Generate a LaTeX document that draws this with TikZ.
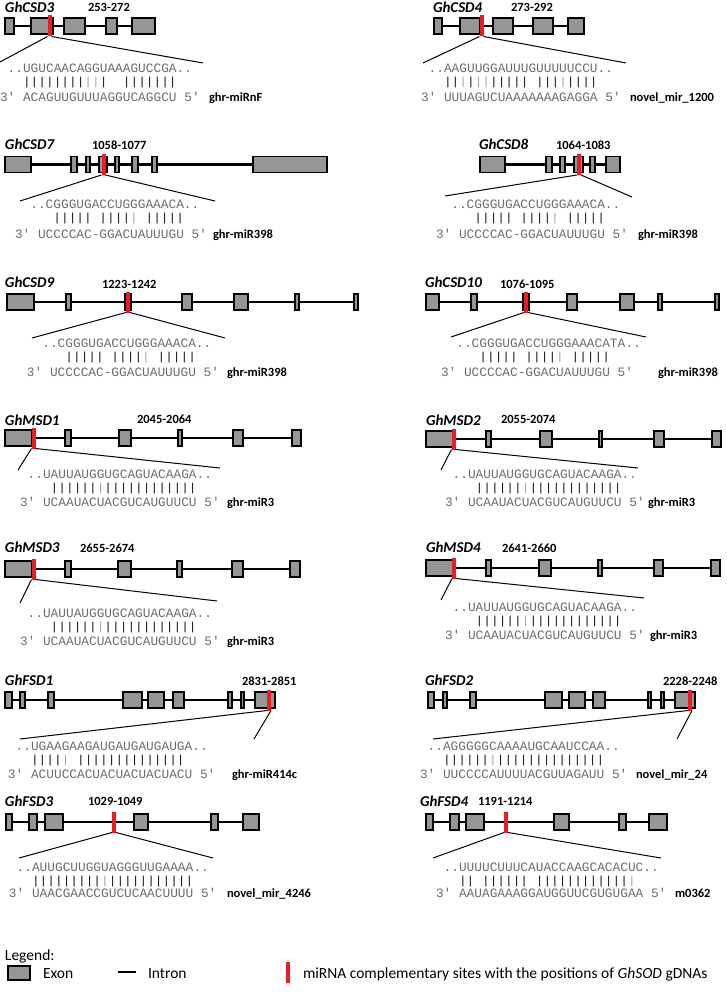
\documentclass[tikz,border=0pt]{standalone}
\usepackage{fontspec}
\setmainfont{Carlito}
\newfontfamily\seqfont{Liberation Mono}
\definecolor{exongray}{RGB}{150,150,150}
\definecolor{seqgray}{RGB}{108,108,108}
\definecolor{wobgray}{RGB}{165,165,165}
\definecolor{sitered}{RGB}{237,28,36}
\newcommand{\wob}{\textcolor{wobgray}{|}}
\newcommand{\pairline}[1]{\scalebox{1}[0.9]{#1}}
\tikzset{
    every node/.style={inner sep=0pt,outer sep=0pt,},
    gene/.style={anchor=base west,font=\fontsize{15}{18}\selectfont\bfseries\itshape,},
    posrange/.style={anchor=base west,font=\fontsize{12.5}{15}\selectfont\bfseries,},
    exon/.style={draw,fill=exongray,line width=1.3pt,minimum height=16pt,},
    intron/.style={line width=2.4pt,},
    site/.style={fill=sitered,minimum width=4pt,minimum height=21pt,},
    zoomline/.style={line width=1pt,},
    seq/.style={anchor=base west,text=seqgray,font=\seqfont\fontsize{12.8}{15}\selectfont,},
    pair/.style={anchor=base west,text=black!90,font=\seqfont\fontsize{12.8}{15}\selectfont,},
    mirna/.style={anchor=base west,font=\fontsize{12.5}{15}\selectfont\bfseries,},
    legtext/.style={anchor=base west,font=\fontsize{15.5}{18}\selectfont,},
}
\begin{document}
\begin{tikzpicture}[x=1pt,y=-1pt]
\useasboundingbox (0,0) rectangle (727,992);

\node[gene] (csd3) at (5,13) {GhCSD3};
\node[posrange] (csd3-pos) at (88,12) {253-272};
\coordinate (csd3-a) at (5,26);
\coordinate (csd3-b) at (155,26);
\draw[intron] (csd3-a) -- (csd3-b);
\foreach \a/\b in {5/14,31/53,64/85,106/117,132/155}
    \node[exon,minimum width={(\b-\a)*1pt}] (csd3-\a) at ({(\a+\b)/2},26) {};
\node[site] (csd3-site) at (49.5,26) {};
\coordinate (csd3-l) at (0,62);
\coordinate (csd3-r) at (203,63);
\draw[zoomline] (csd3-site.south west) -- (csd3-l);
\draw[zoomline] (csd3-site.south east) -- (csd3-r);
\node[seq] (csd3-tgt) at (0,73) {~..UGUCAACAGGUAAAGUCCGA..};
\node[pair] (csd3-bar) at (0,86) {\pairline{~~~||||||||\wob\wob|~~|||||||}};
\node[seq] (csd3-mir) at (0,102) {3′~ACAGUUGUUUAGGUCAGGCU~5′};
\node[mirna] (csd3-name) at (209,102) {ghr-miRnF};

\node[gene] (csd4) at (433,13) {GhCSD4};
\node[posrange] (csd4-pos) at (511,12) {273-292};
\coordinate (csd4-a) at (434,26);
\coordinate (csd4-b) at (584,26);
\draw[intron] (csd4-a) -- (csd4-b);
\foreach \a/\b in {434/442,460/480,493/513,533/553,568/584}
    \node[exon,minimum width={(\b-\a)*1pt}] (csd4-\a) at ({(\a+\b)/2},26) {};
\node[site] (csd4-site) at (481.5,26) {};
\coordinate (csd4-l) at (423,63);
\coordinate (csd4-r) at (626,63);
\draw[zoomline] (csd4-site.south west) -- (csd4-l);
\draw[zoomline] (csd4-site.south east) -- (csd4-r);
\node[seq] (csd4-tgt) at (421,73) {~..AAGUUGGAUUUGUUUUUCCU..};
\node[pair] (csd4-bar) at (421,86) {\pairline{~~~||\wob|\wob\wob|||||~|||\wob||||}};
\node[seq] (csd4-mir) at (421,102) {3′~UUUAGUCUAAAAAAAGAGGA~5′};
\node[mirna] (csd4-name) at (630,102) {novel\_mir\_1200};

\node[gene] (csd7) at (5,150) {GhCSD7};
\node[posrange] (csd7-pos) at (92,150) {1058-1077};
\coordinate (csd7-a) at (5,164.5);
\coordinate (csd7-b) at (327,164.5);
\draw[intron] (csd7-a) -- (csd7-b);
\foreach \a/\b in {5/31,71/77,86/90,99/107,115/119,132/138,152/157,253/327}
    \node[exon,minimum width={(\b-\a)*1pt}] (csd7-\a) at ({(\a+\b)/2},164.5) {};
\node[site] (csd7-site) at (103.5,164.5) {};
\coordinate (csd7-l) at (20,201);
\coordinate (csd7-r) at (215,201);
\draw[zoomline] (csd7-site.south west) -- (csd7-l);
\draw[zoomline] (csd7-site.south east) -- (csd7-r);
\node[seq] (csd7-tgt) at (15,209) {~~..CGGGUGACCUGGGAAACA..};
\node[pair] (csd7-bar) at (15,222) {\pairline{~~~~~|||||~||||\wob~|||||}};
\node[seq] (csd7-mir) at (15,238) {3′~UCCCCAC-GGACUAUUUGU~5′};
\node[mirna] (csd7-name) at (213,238) {ghr-miR398};

\node[gene] (csd8) at (479,150) {GhCSD8};
\node[posrange] (csd8-pos) at (556,150) {1064-1083};
\coordinate (csd8-a) at (480,164.5);
\coordinate (csd8-b) at (620,164.5);
\draw[intron] (csd8-a) -- (csd8-b);
\foreach \a/\b in {480/505,546/552,560/565,574/583,590/595,606/620}
    \node[exon,minimum width={(\b-\a)*1pt}] (csd8-\a) at ({(\a+\b)/2},164.5) {};
\node[site] (csd8-site) at (579,164.5) {};
\coordinate (csd8-l) at (445,196);
\coordinate (csd8-r) at (632,197);
\draw[zoomline] (csd8-site.south west) -- (csd8-l);
\draw[zoomline] (csd8-site.south east) -- (csd8-r);
\node[seq] (csd8-tgt) at (436,209) {~~..CGGGUGACCUGGGAAACA..};
\node[pair] (csd8-bar) at (436,222) {\pairline{~~~~~|||||~||||\wob~|||||}};
\node[seq] (csd8-mir) at (436,238) {3′~UCCCCAC-GGACUAUUUGU~5′};
\node[mirna] (csd8-name) at (638,238) {ghr-miR398};

\node[gene] (csd9) at (5,287) {GhCSD9};
\node[posrange] (csd9-pos) at (102,288) {1223-1242};
\coordinate (csd9-a) at (7,302);
\coordinate (csd9-b) at (358,302);
\draw[intron] (csd9-a) -- (csd9-b);
\foreach \a/\b in {7/34,66/71,125/131,182/192,234/248,295/299,354/358}
    \node[exon,minimum width={(\b-\a)*1pt}] (csd9-\a) at ({(\a+\b)/2},302) {};
\node[site] (csd9-site) at (128,302) {};
\coordinate (csd9-l) at (32,338);
\coordinate (csd9-r) at (225,338);
\draw[zoomline] (csd9-site.south west) -- (csd9-l);
\draw[zoomline] (csd9-site.south east) -- (csd9-r);
\node[seq] (csd9-tgt) at (27,347) {~~..CGGGUGACCUGGGAAACA..};
\node[pair] (csd9-bar) at (27,360) {\pairline{~~~~~|||||~||||\wob~|||||}};
\node[seq] (csd9-mir) at (27,376) {3′~UCCCCAC-GGACUAUUUGU~5′};
\node[mirna] (csd9-name) at (227,376) {ghr-miR398};

\node[gene] (csd10) at (425,287) {GhCSD10};
\node[posrange] (csd10-pos) at (500,288) {1076-1095};
\coordinate (csd10-a) at (426,302);
\coordinate (csd10-b) at (719,302);
\draw[intron] (csd10-a) -- (csd10-b);
\foreach \a/\b in {426/439,471/477,523/529,567/577,620/634,658/662,715/719}
    \node[exon,minimum width={(\b-\a)*1pt}] (csd10-\a) at ({(\a+\b)/2},302) {};
\node[site] (csd10-site) at (526,302) {};
\coordinate (csd10-l) at (451,337);
\coordinate (csd10-r) at (646,337);
\draw[zoomline] (csd10-site.south west) -- (csd10-l);
\draw[zoomline] (csd10-site.south east) -- (csd10-r);
\node[seq] (csd10-tgt) at (441,347) {~~..CGGGUGACCUGGGAAACATA..};
\node[pair] (csd10-bar) at (441,360) {\pairline{~~~~~|||||~||||\wob~|||||}};
\node[seq] (csd10-mir) at (441,376) {3′~UCCCCAC-GGACUAUUUGU~5′};
\node[mirna] (csd10-name) at (658,376) {ghr-miR398};

\node[gene] (msd1) at (5,425) {GhMSD1};
\node[posrange] (msd1-pos) at (137,423) {2045-2064};
\coordinate (msd1-a) at (5,438);
\coordinate (msd1-b) at (301,438);
\draw[intron] (msd1-a) -- (msd1-b);
\foreach \a/\b in {5/32,65/71,119/131,178/182,233/243,292/301}
    \node[exon,minimum width={(\b-\a)*1pt}] (msd1-\a) at ({(\a+\b)/2},438) {};
\node[site] (msd1-site) at (33.5,438) {};
\coordinate (msd1-l) at (18,470);
\coordinate (msd1-r) at (220,468);
\draw[zoomline] (msd1-site.south west) -- (msd1-l);
\draw[zoomline] (msd1-site.south east) -- (msd1-r);
\node[seq] (msd1-tgt) at (20,478) {~..UAUUAUGGUGCAGUACAAGA..};
\node[pair] (msd1-bar) at (20,491) {\pairline{~~~~||||||\wob||||||||||||}};
\node[seq] (msd1-mir) at (20,506) {3′~UCAAUACUACGUCAUGUUCU~5′};
\node[mirna] (msd1-name) at (227,506) {ghr-miR3};

\node[gene] (msd2) at (426,425) {GhMSD2};
\node[posrange] (msd2-pos) at (501,423) {2055-2074};
\coordinate (msd2-a) at (426,439);
\coordinate (msd2-b) at (721,439);
\draw[intron] (msd2-a) -- (msd2-b);
\foreach \a/\b in {426/453,486/491,540/552,599/602,654/664,712/721}
    \node[exon,minimum width={(\b-\a)*1pt}] (msd2-\a) at ({(\a+\b)/2},439) {};
\node[site] (msd2-site) at (453.5,439) {};
\coordinate (msd2-l) at (441,470);
\coordinate (msd2-r) at (638,468);
\draw[zoomline] (msd2-site.south west) -- (msd2-l);
\draw[zoomline] (msd2-site.south east) -- (msd2-r);
\node[seq] (msd2-tgt) at (445,478) {~..UAUUAUGGUGCAGUACAAGA..};
\node[pair] (msd2-bar) at (445,491) {\pairline{~~~~||||||\wob||||||||||||}};
\node[seq] (msd2-mir) at (445,506) {3′~UCAAUACUACGUCAUGUUCU~5′};
\node[mirna] (msd2-name) at (648,506) {ghr-miR3};

\node[gene] (msd3) at (5,552) {GhMSD3};
\node[posrange] (msd3-pos) at (80,552) {2655-2674};
\coordinate (msd3-a) at (5,569);
\coordinate (msd3-b) at (300,569);
\draw[intron] (msd3-a) -- (msd3-b);
\foreach \a/\b in {5/32,65/71,118/131,177/182,232/243,290/300}
    \node[exon,minimum width={(\b-\a)*1pt}] (msd3-\a) at ({(\a+\b)/2},569) {};
\node[site] (msd3-site) at (33.5,569) {};
\coordinate (msd3-l) at (20,603);
\coordinate (msd3-r) at (217,601);
\draw[zoomline] (msd3-site.south west) -- (msd3-l);
\draw[zoomline] (msd3-site.south east) -- (msd3-r);
\node[seq] (msd3-tgt) at (20,617) {~..UAUUAUGGUGCAGUACAAGA..};
\node[pair] (msd3-bar) at (20,630) {\pairline{~~~~||||||\wob||||||||||||}};
\node[seq] (msd3-mir) at (20,645) {3′~UCAAUACUACGUCAUGUUCU~5′};
\node[mirna] (msd3-name) at (227,645) {ghr-miR3};

\node[gene] (msd4) at (426,552) {GhMSD4};
\node[posrange] (msd4-pos) at (502,552) {2641-2660};
\coordinate (msd4-a) at (426,568);
\coordinate (msd4-b) at (720,568);
\draw[intron] (msd4-a) -- (msd4-b);
\foreach \a/\b in {426/453,486/491,539/551,598/602,654/663,711/720}
    \node[exon,minimum width={(\b-\a)*1pt}] (msd4-\a) at ({(\a+\b)/2},568) {};
\node[site] (msd4-site) at (454,568) {};
\coordinate (msd4-l) at (441,600);
\coordinate (msd4-r) at (644,598);
\draw[zoomline] (msd4-site.south west) -- (msd4-l);
\draw[zoomline] (msd4-site.south east) -- (msd4-r);
\node[seq] (msd4-tgt) at (445,611) {~..UAUUAUGGUGCAGUACAAGA..};
\node[pair] (msd4-bar) at (445,624) {\pairline{~~~~||||||\wob||||||||||||}};
\node[seq] (msd4-mir) at (445,639) {3′~UCAAUACUACGUCAUGUUCU~5′};
\node[mirna] (msd4-name) at (650,639) {ghr-miR3};

\node[gene] (fsd1) at (5,685) {GhFSD1};
\node[posrange] (fsd1-pos) at (242,685) {2831-2851};
\coordinate (fsd1-a) at (5,700);
\coordinate (fsd1-b) at (275,700);
\draw[intron] (fsd1-a) -- (fsd1-b);
\foreach \a/\b in {5/12,20/25,48/54,123/142,148/164,173/184,228/232,241/244,255/275}
    \node[exon,minimum width={(\b-\a)*1pt}] (fsd1-\a) at ({(\a+\b)/2},700) {};
\node[site] (fsd1-site) at (269,700) {};
\coordinate (fsd1-l) at (20,739);
\coordinate (fsd1-r) at (254,739);
\draw[zoomline] (fsd1-site.south west) -- (fsd1-l);
\draw[zoomline] (fsd1-site.south east) -- (fsd1-r);
\node[seq] (fsd1-tgt) at (8,750) {~..UGAAGAAGAUGAUGAUGAUGA..};
\node[pair] (fsd1-bar) at (8,763) {\pairline{~~~||||\wob~||||||||||||||}};
\node[seq] (fsd1-mir) at (8,778) {3′~ACUUCCACUACUACUACUACU~5′};
\node[mirna] (fsd1-name) at (232,778) {ghr-miR414c};

\node[gene] (fsd2) at (425,685) {GhFSD2};
\node[posrange] (fsd2-pos) at (663,685) {2228-2248};
\coordinate (fsd2-a) at (428,700);
\coordinate (fsd2-b) at (695,700);
\draw[intron] (fsd2-a) -- (fsd2-b);
\foreach \a/\b in {428/434,443/447,470/476,545/562,569/585,593/605,648/651,661/664,675/695}
    \node[exon,minimum width={(\b-\a)*1pt}] (fsd2-\a) at ({(\a+\b)/2},700) {};
\node[site] (fsd2-site) at (690,700) {};
\coordinate (fsd2-l) at (433,739);
\coordinate (fsd2-r) at (677,739);
\draw[zoomline] (fsd2-site.south west) -- (fsd2-l);
\draw[zoomline] (fsd2-site.south east) -- (fsd2-r);
\node[seq] (fsd2-tgt) at (420,750) {~..AGGGGGCAAAAUGCAAUCCAA..};
\node[pair] (fsd2-bar) at (420,763) {\pairline{~~~||||||\wob||||||||||||||}};
\node[seq] (fsd2-mir) at (420,778) {3′~UUCCCCAUUUUACGUUAGAUU~5′};
\node[mirna] (fsd2-name) at (636,778) {novel\_mir\_24};

\node[gene] (fsd3) at (5,806) {GhFSD3};
\node[posrange] (fsd3-pos) at (88,805) {1029-1049};
\coordinate (fsd3-a) at (6,822);
\coordinate (fsd3-b) at (259,822);
\draw[intron] (fsd3-a) -- (fsd3-b);
\foreach \a/\b in {6/12,29/37,45/63,134/148,211/218,243/259}
    \node[exon,minimum width={(\b-\a)*1pt}] (fsd3-\a) at ({(\a+\b)/2},822) {};
\node[site] (fsd3-site) at (114,822) {};
\coordinate (fsd3-l) at (19,858);
\coordinate (fsd3-r) at (213,858);
\draw[zoomline] (fsd3-site.south west) -- (fsd3-l);
\draw[zoomline] (fsd3-site.south east) -- (fsd3-r);
\node[seq] (fsd3-tgt) at (9,871) {~..AUUGCUUGGUAGGGUUGAAAA..};
\node[pair] (fsd3-bar) at (9,884) {\pairline{~~~|||||||||\wob|||||||||||}};
\node[seq] (fsd3-mir) at (9,897) {3′~UAACGAACCGUCUCAACUUUU~5′};
\node[mirna] (fsd3-name) at (227,897) {novel\_mir\_4246};

\node[gene] (fsd4) at (420,806) {GhFSD4};
\node[posrange] (fsd4-pos) at (478,805) {1191-1214};
\coordinate (fsd4-a) at (426,822);
\coordinate (fsd4-b) at (667,822);
\draw[intron] (fsd4-a) -- (fsd4-b);
\foreach \a/\b in {426/433,450/459,466/484,554/569,619/626,649/667}
    \node[exon,minimum width={(\b-\a)*1pt}] (fsd4-\a) at ({(\a+\b)/2},822) {};
\node[site] (fsd4-site) at (506,822) {};
\coordinate (fsd4-l) at (433,858);
\coordinate (fsd4-r) at (661,858);
\draw[zoomline] (fsd4-site.south west) -- (fsd4-l);
\draw[zoomline] (fsd4-site.south east) -- (fsd4-r);
\node[seq] (fsd4-tgt) at (436,871) {~..UUUUCUUUCAUACCAAGCACACUC..};
\node[pair] (fsd4-bar) at (436,884) {\pairline{~~~||~||||||~||||||||||||\wob}};
\node[seq] (fsd4-mir) at (436,897) {3′~AAUAGAAAGGAUGGUUCGUGUGAA~5′};
\node[mirna] (fsd4-name) at (675,897) {m0362};

\node[legtext] (legend) at (5,960) {Legend:};
\node[exon,minimum width=22pt,minimum height=14pt] (leg-exon) at (19,973) {};
\node[legtext] (leg-exon-t) at (43,978) {Exon};
\coordinate (leg-a) at (118,972);
\coordinate (leg-b) at (136,972);
\draw[intron] (leg-a) -- (leg-b);
\node[legtext] (leg-intron-t) at (148,978) {Intron};
\node[site] (leg-site) at (288,972) {};
\node[legtext] (leg-site-t) at (303,978) {miRNA complementary sites with the positions of {\itshape GhSOD} gDNAs};
\end{tikzpicture}
\end{document}
